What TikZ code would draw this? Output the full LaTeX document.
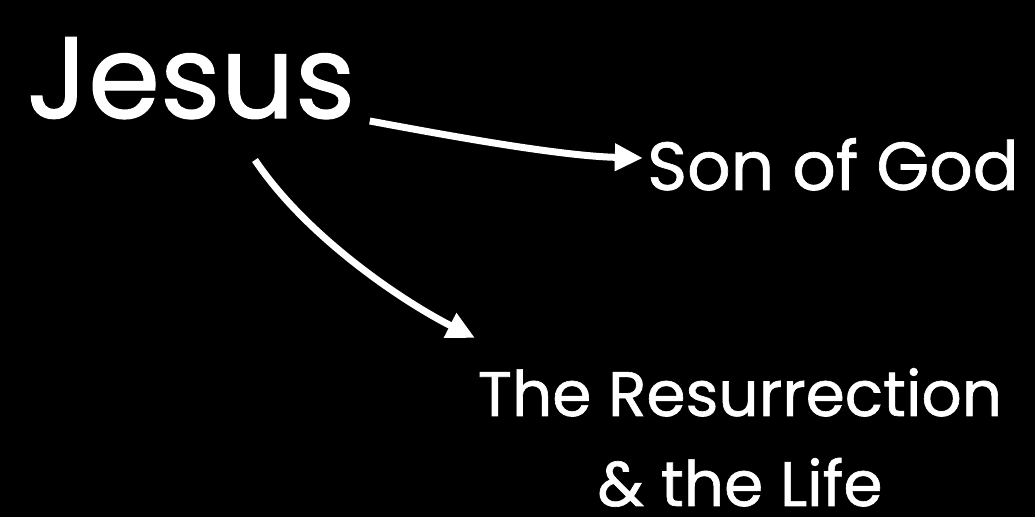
\documentclass[tikz,border=0pt]{standalone}
\usepackage{fontspec}
\setmainfont{Poppins}[FakeBold=1]
\usetikzlibrary{arrows.meta, positioning, calc}
\definecolor{backdrop}{RGB}{0, 0, 0}
\definecolor{chalk}{RGB}{255, 255, 255}
\tikzset{
  label text/.style={text=chalk, inner sep=0pt},
  link/.style={draw=chalk, line width=3.5pt, -{Triangle[length=14pt, width=13pt]}}
}
\begin{document}
\begin{tikzpicture}[x=0.5pt, y=-0.5pt]
                % Background
                \fill[backdrop] (0,0) rectangle (1035,517);
                \useasboundingbox (0,0) rectangle (1035,517);
                % Words
                \node[label text, anchor=base, font=\fontsize{58}{64}\selectfont] (jesus) at (191,118) {Jesus};
                \node[label text, anchor=base, font=\fontsize{34}{40}\selectfont] (son) at (833,190) {Son of God};
                \node[label text, anchor=base, align=center, font=\fontsize{31.5}{45}\selectfont] (life) at (740,506) {The Resurrection\\\& the Life};
                % Start and end points
                \coordinate (fromA) at ($(jesus.base east)+(14,3)$);
                \coordinate (fromB) at (255,160);
                \coordinate (toA) at ($(son.base west)+(-4,-32)$);
                \coordinate (toB) at (475,338);
                % Arrows
                \draw[link] (fromA) .. controls (450,136) and (560,156) .. (toA);
                \draw[link] (fromB) .. controls (305,235) and (400,300) .. (toB);
            \end{tikzpicture}
\end{document}
